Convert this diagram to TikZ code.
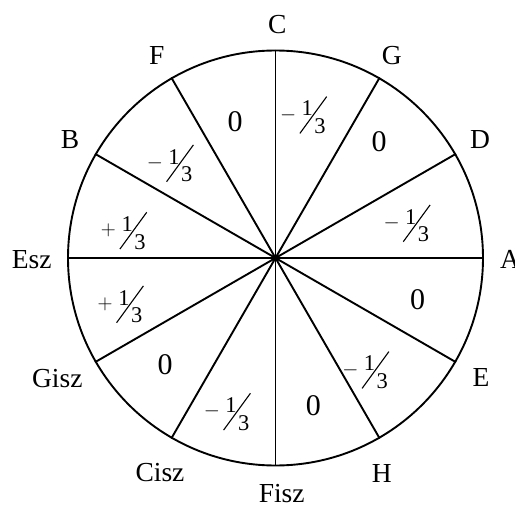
\documentclass[tikz,border=0pt]{standalone}
\usepackage{fontspec}
\setmainfont{Liberation Serif}
\begin{document}
\begin{tikzpicture}[x=1pt,y=-1pt,
  spoke/.style={line width=1.9pt},
  rim/.style={line width=1.9pt},
  lbl/.style={inner sep=0pt,font=\fontsize{27.5}{30}\selectfont},
  zero/.style={inner sep=0pt,font=\fontsize{30}{34}\selectfont},
  fd/.style={inner sep=0pt,font=\fontsize{22.5}{24}\selectfont},
  sg/.style={inner sep=0pt,font=\fontsize{20}{24}\selectfont},
  third/.pic={
    \node[sg] (-sign) at (-25,0) {\tikzpictext};
    \node[fd] (-one) at (-6,-6.5) {1};
    \node[fd] (-three) at (6.7,11) {3};
    \draw[line width=1.1pt] (-13.4,18.4) coordinate (-a) -- (13.4,-18.4) coordinate (-b);
  }]
\useasboundingbox (0,0) rectangle (515,506);
\coordinate (O) at (275.5,258);
\node[draw,circle,rim,minimum size=415pt,inner sep=0pt] (circ) at (O) {};
\foreach \a in {0,30,...,150}{
  \draw[spoke] (circ.\a) -- (circ.\a+180);
}
% labels
\node[lbl] (C) at (277.3,25) {C};
\node[lbl] (G) at (391.7,56) {G};
\node[lbl] (D) at (480,140) {D};
\node[lbl] (A) at (510,259) {A};
\node[lbl] (E) at (481,377.7) {E};
\node[lbl] (H) at (381.7,473.3) {H};
\node[lbl] (Fisz) at (281.7,494) {Fisz};
\node[lbl] (Cisz) at (160,472.7) {Cisz};
\node[lbl] (Gisz) at (57.3,378.3) {Gisz};
\node[lbl] (Esz) at (31.7,259.3) {Esz};
\node[lbl] (B) at (70,140) {B};
\node[lbl] (F) at (156.7,55) {F};
% zeros
\node[zero] (z1) at (235,121.7) {0};
\node[zero] (z2) at (379,141.7) {0};
\node[zero] (z3) at (417.7,299.3) {0};
\node[zero] (z4) at (313.3,406) {0};
\node[zero] (z5) at (165,365) {0};
% thirds
\pic[pic text={$-$}] (t1) at (313.3,115) {third};
\pic[pic text={$-$}] (t2) at (416.7,223.3) {third};
\pic[pic text={$-$}] (t3) at (180,163.3) {third};
\pic[pic text={$+$}] (t4) at (133.3,230.7) {third};
\pic[pic text={$+$}] (t5) at (130,304.3) {third};
\pic[pic text={$-$}] (t6) at (237,411.7) {third};
\pic[pic text={$-$}] (t7) at (375.5,370) {third};
\end{tikzpicture}
\end{document}
